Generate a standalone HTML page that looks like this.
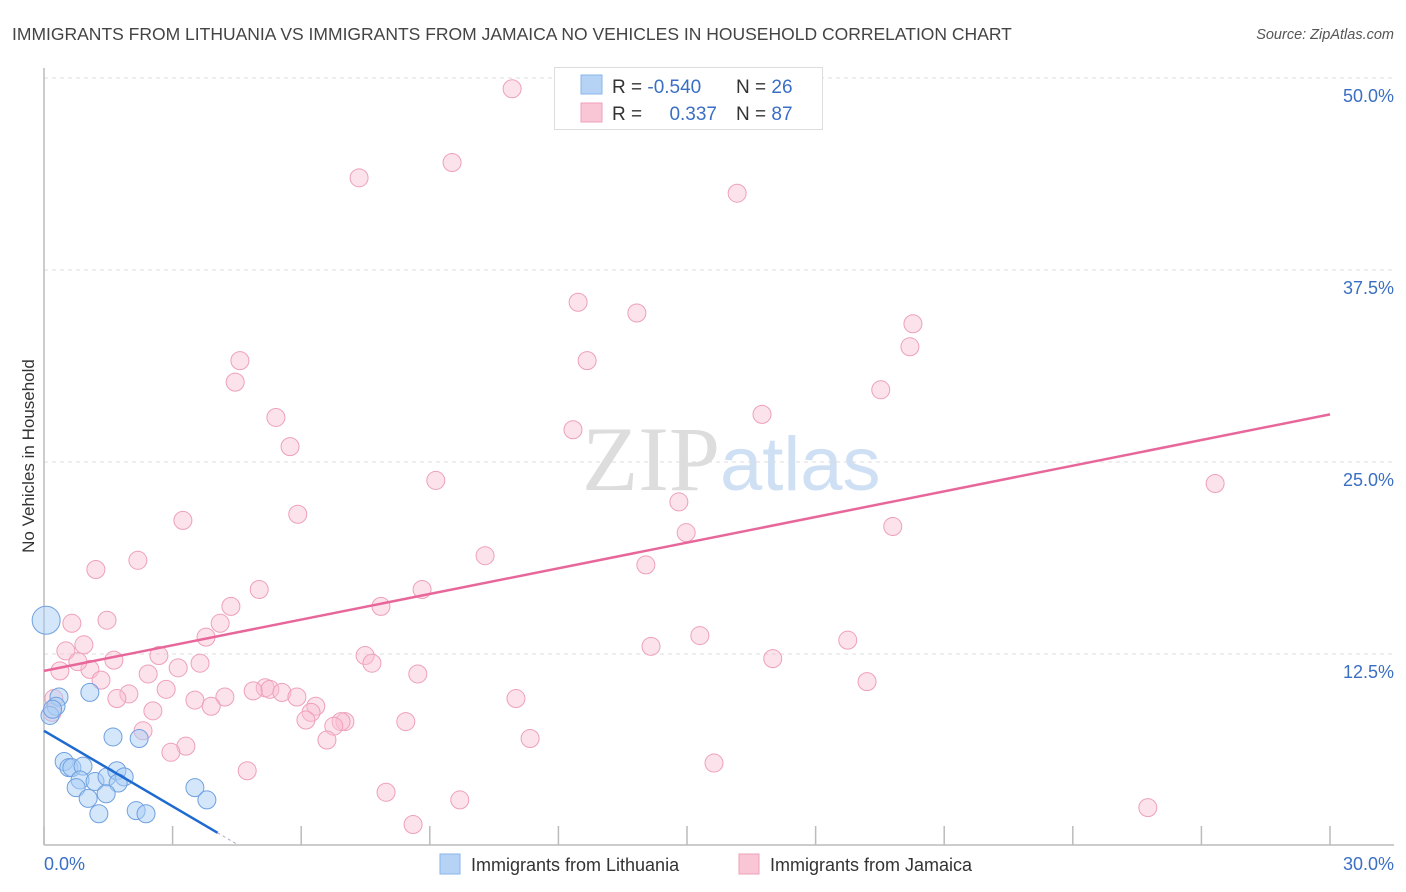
<!DOCTYPE html>
<html><head><meta charset="utf-8"><style>
body{margin:0;background:#fff;font-family:"Liberation Sans",sans-serif;}
svg{display:block}
</style></head><body>
<svg width="1406" height="892" viewBox="0 0 1406 892">
<text x="12" y="40" font-size="17.5" fill="#444">IMMIGRANTS FROM LITHUANIA VS IMMIGRANTS FROM JAMAICA NO VEHICLES IN HOUSEHOLD CORRELATION CHART</text>
<text x="1394" y="39" font-size="14.5" fill="#555" font-style="italic" text-anchor="end">Source: ZipAtlas.com</text>
<text x="720" y="490" font-size="92" fill="#ddd" text-anchor="end" font-family="Liberation Serif">ZIP</text>
<text x="720" y="490" font-size="76" fill="#cfe0f5">atlas</text>
<g id="grid"></g>
<g id="axes"></g>
<g id="marks"></g>
<text transform="translate(34,456) rotate(-90)" font-size="17" fill="#333" text-anchor="middle">No Vehicles in Household</text>
<g>
<rect x="554.5" y="67.5" width="268" height="62" fill="#fff" stroke="#ddd"/>
<rect x="581" y="75" width="21" height="19" fill="#b6d3f5" stroke="#8ab6ea"/>
<rect x="581" y="103" width="21" height="19" fill="#f9c6d5" stroke="#f0a0b8"/>
<text x="612" y="93" font-size="19" fill="#333">R = <tspan fill="#3a6fc4">-0.540</tspan></text>
<text x="736" y="93" font-size="19" fill="#333">N = <tspan fill="#3a6fc4">26</tspan></text>
<text x="612" y="120" font-size="19" fill="#333">R = </text>
<text x="717" y="120" font-size="19" fill="#3a6fc4" text-anchor="end">0.337</text>
<text x="736" y="120" font-size="19" fill="#333">N = <tspan fill="#3a6fc4">87</tspan></text>
</g>
<g>
<rect x="440" y="854" width="20" height="20" fill="#b6d3f5" stroke="#8ab6ea"/>
<text x="471" y="871" font-size="18" fill="#333">Immigrants from Lithuania</text>
<rect x="739" y="854" width="20" height="20" fill="#f9c6d5" stroke="#f0a0b8"/>
<text x="770" y="871" font-size="18" fill="#333">Immigrants from Jamaica</text>
</g>
</svg>
<script>
const xTicks=[0,3,6,9,12,15,18,21,24,27,30];
const yTicks=[12.5,25,37.5,50];
const yTickLabels=["12.5%","25.0%","37.5%","50.0%"];
const xEndLabels=["0.0%","30.0%"];
const lithX=[0.05,0.35,0.28,0.14,1.07,1.61,2.22,0.47,0.58,0.65,0.91,0.84,0.75,1.19,1.47,1.7,1.87,1.73,1.45,1.03,1.28,2.15,2.38,3.52,3.8,0.2];
const lithY=[14.7,9.7,9.1,8.5,10.0,7.1,7.0,5.5,5.1,5.1,5.2,4.3,3.8,4.2,4.5,4.9,4.5,4.1,3.4,3.1,2.1,2.3,2.1,3.8,3.0,8.9];
const jamX=[10.92,9.52,7.35,16.17,12.46,13.83,20.27,20.2,4.57,12.67,4.46,19.52,5.41,16.75,5.74,12.34,9.14,27.32,14.81,3.24,5.92,14.98,19.8,10.29,2.19,1.21,14.04,5.02,8.82,4.36,7.86,1.47,0.65,4.11,3.78,15.3,18.75,0.93,0.51,2.68,14.16,7.49,17.0,1.63,7.65,3.64,3.13,0.37,1.07,2.43,0.79,8.72,1.33,19.2,2.85,0.23,1.98,1.7,3.52,4.22,5.16,5.27,5.55,5.9,4.88,6.34,11.01,3.9,2.54,6.23,6.11,7.02,6.93,8.44,6.76,0.19,2.31,6.6,11.34,3.31,2.96,4.74,15.63,7.98,9.7,25.75,8.61];
const jamY=[49.3,44.5,43.5,42.5,35.4,34.7,34.0,32.5,31.6,31.6,30.2,29.7,27.9,28.1,26.0,27.1,23.8,23.6,22.4,21.2,21.6,20.4,20.8,18.9,18.6,18.0,18.3,16.7,16.7,15.6,15.6,14.7,14.5,14.5,13.6,13.7,13.4,13.1,12.7,12.4,13.0,12.4,12.2,12.1,11.9,11.9,11.6,11.4,11.5,11.2,12.0,11.2,10.8,10.7,10.2,9.6,9.9,9.6,9.5,9.7,10.3,10.2,10.0,9.7,10.1,9.1,9.6,9.1,8.8,8.7,8.2,8.1,8.1,8.1,7.8,8.7,7.5,6.9,7.0,6.5,6.1,4.9,5.4,3.5,3.0,2.5,1.4];
const jamTrend=[11.4,28.1]; // value at x=0 and x=30
const lithTrend=[7.5,-1.64]; // intercept, slope

const X=v=>44+v*42.867, Y=v=>846-v*15.36;
const NS='http://www.w3.org/2000/svg';
function mk(t,a,p){const e=document.createElementNS(NS,t);for(const k in a)e.setAttribute(k,a[k]);p.appendChild(e);return e;}
const grid=document.getElementById('grid'),axes=document.getElementById('axes'),marks=document.getElementById('marks');
yTicks.forEach((v,i)=>{
 const l=mk('line',{x1:44,x2:1394,y1:Y(v),y2:Y(v),stroke:'#ddd','stroke-dasharray':'4,4'},grid);
 
 
 const t=mk('text',{x:1394,y:Y(v)+24,'font-size':18,fill:'#3a6fc4','text-anchor':'end'},axes);
 t.textContent=yTickLabels[i];
 
 
});
let a=mk('line',{x1:44,x2:44,y1:68,y2:845,stroke:'#bbb','stroke-width':1.5},axes);


a=mk('line',{x1:44,x2:1394,y1:845,y2:845,stroke:'#bbb','stroke-width':1.5},axes);


xTicks.forEach(v=>{const t=mk('line',{x1:X(v),x2:X(v),y1:826,y2:845,stroke:'#bbb','stroke-width':1.5},axes);
 
 });
let t=mk('text',{x:44,y:870,'font-size':18,fill:'#3a6fc4'},axes);t.textContent=xEndLabels[0];


t=mk('text',{x:1394,y:870,'font-size':18,fill:'#3a6fc4','text-anchor':'end'},axes);t.textContent=xEndLabels[1];


jamX.forEach((x,i)=>{const c=mk('circle',{cx:X(x),cy:Y(jamY[i]),r:9,fill:'rgba(249,190,210,0.45)',stroke:'#eea0ba','stroke-width':1},marks);
 
 });
lithX.forEach((x,i)=>{const c=mk('circle',{cx:X(x),cy:Y(lithY[i]),r:i==0?14:9,fill:'rgba(170,205,245,0.5)',stroke:'#6fa0e0','stroke-width':1},marks);
 
 });
let l=mk('line',{x1:X(0),y1:Y(jamTrend[0]),x2:X(30),y2:Y(jamTrend[1]),stroke:'#e8679a','stroke-width':2.5},marks);


const xe=4.05;
l=mk('line',{x1:X(0),y1:Y(lithTrend[0]),x2:X(xe),y2:Y(lithTrend[0]+lithTrend[1]*xe),stroke:'#1e6ad0','stroke-width':2.5},marks);


l=mk('line',{x1:X(xe),y1:Y(lithTrend[0]+lithTrend[1]*xe),x2:X(4.5),y2:Y(lithTrend[0]+lithTrend[1]*4.5),stroke:'#aac','stroke-width':1,'stroke-dasharray':'3,3'},marks);


</script>
</body></html>
